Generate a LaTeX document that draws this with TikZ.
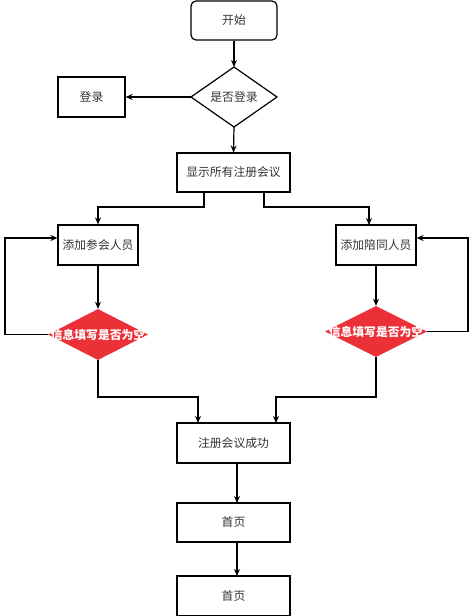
\documentclass[tikz,border=0pt]{standalone}
\usepackage{fontspec}
\setmainfont{Noto Sans CJK SC}
\usetikzlibrary{shapes.geometric,arrows.meta}
\definecolor{txt}{HTML}{333333}
\definecolor{redd}{HTML}{EC3038}
\begin{document}
\begin{tikzpicture}[x=1pt,y=-1pt,
  box/.style={draw=black,line width=1.2pt,inner sep=0pt,text=txt,font=\fontsize{11.8}{13}\selectfont},
  rdec/.style={fill=redd,diamond,inner sep=0pt},
  rtxt/.style={text=white,font=\fontsize{11.8}{13}\selectfont\bfseries},
  conn/.style={line width=1.2pt,-{Stealth[length=7pt,width=6pt]}}]
\useasboundingbox (0,0) rectangle (474,616);
\node[box,rounded corners=5pt,minimum width=86pt,minimum height=39pt] (start) at (234,20.5) {开始};
\path (191,97) coordinate (dl) (277,97) coordinate (dr) (234,67) coordinate (dt) (234,127) coordinate (db);
\draw[line width=1.2pt] (dt) -- (dr) -- (db) -- (dl) -- cycle;
\node[text=txt,font=\fontsize{11.8}{13}\selectfont] (login) at (234,97) {是否登录};
\node[box,minimum width=67pt,minimum height=40pt] (dl2) at (91.5,97) {登录};
\node[box,minimum width=113pt,minimum height=39pt] (show) at (233.5,172.5) {显示所有注册会议};
\node[box,minimum width=80pt,minimum height=40pt] (addA) at (98,245) {添加参会人员};
\node[box,minimum width=80pt,minimum height=40pt] (addB) at (376,245) {添加陪同人员};
\node[rdec,minimum width=100pt,minimum height=51pt] (chkA) at (98,334.5) {};
\node[rtxt] (tA) at (chkA) {信息填写是否为空};
\node[rdec,minimum width=102pt,minimum height=51pt] (chkB) at (376,331.5) {};
\node[rtxt] (tB) at (chkB) {信息填写是否为空};
\node[box,minimum width=113pt,minimum height=40pt] (ok) at (233.5,443) {注册会议成功};
\node[box,minimum width=113pt,minimum height=39pt] (home1) at (233.5,522.5) {首页};
\node[box,minimum width=113pt,minimum height=40pt] (home2) at (233.5,596) {首页};

\draw[conn] (start.south) -- (dt);
\draw[conn] (dl) -- (dl2.east);
\draw[conn] (db) -- (show.north);
\draw[conn] (show.south -| 204,0) -- (204,207) -- (98,207) -- (addA.north);
\draw[conn] (show.south -| 264,0) -- (264,207) -- (369,207) -- (369,225);
\draw[conn] (addA.south) -- (chkA.north);
\draw[conn] (addB.south) -- (chkB.north);
\draw[conn] (chkA.west) -- (5,334.5) -- (5,238) -- (addA.west |- 0,238);
\draw[conn] (chkB.east) -- (468,331.5) -- (468,238) -- (addB.east |- 0,238);
\draw[conn] (chkA.south) -- (98,397) -- (198,397) -- (198,423);
\draw[conn] (chkB.south) -- (376,397) -- (276,397) -- (276,423);
\draw[conn] (ok.south -| 237,0) -- (237,503);
\draw[conn] (home1.south -| 237,0) -- (237,576);
\end{tikzpicture}
\end{document}
